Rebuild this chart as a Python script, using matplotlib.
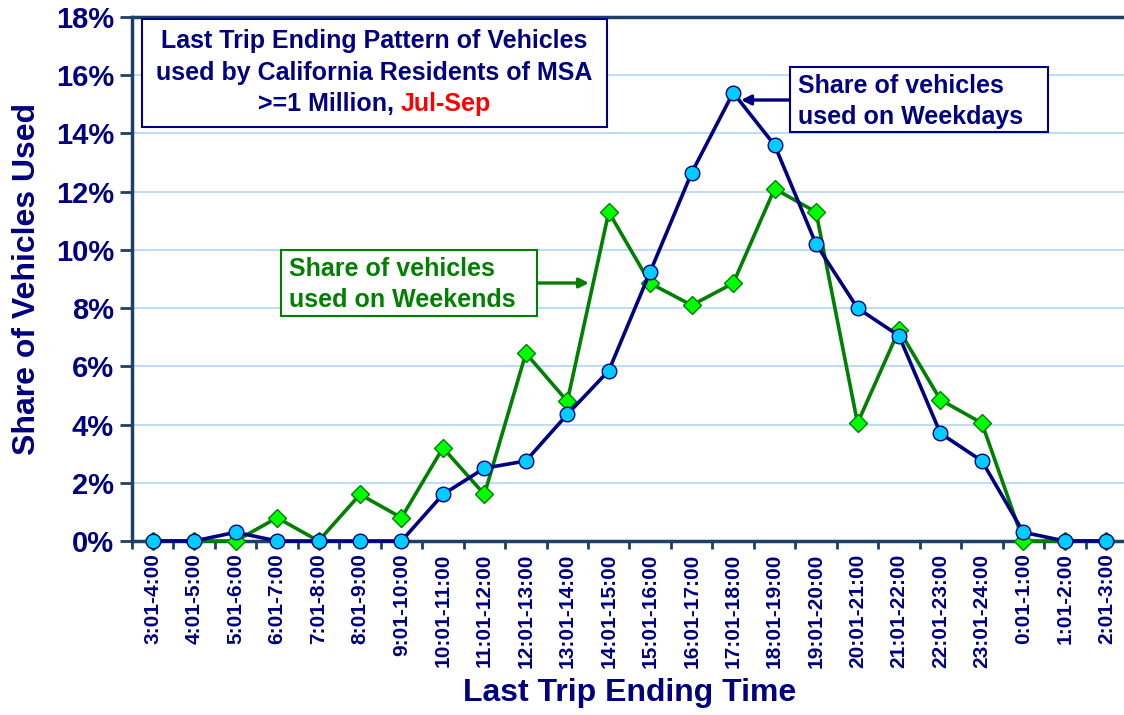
import matplotlib
matplotlib.use("Agg")
import matplotlib.pyplot as plt
from matplotlib.patches import Rectangle
from matplotlib.ticker import FixedLocator, PercentFormatter

plt.rcParams['font.family'] = ['Liberation Sans', 'DejaVu Sans']
plt.rcParams['font.weight'] = 'bold'

# time slots (last trip ending time)
slots = ["3:01-4:00", "4:01-5:00", "5:01-6:00", "6:01-7:00", "7:01-8:00",
         "8:01-9:00", "9:01-10:00", "10:01-11:00", "11:01-12:00", "12:01-13:00",
         "13:01-14:00", "14:01-15:00", "15:01-16:00", "16:01-17:00", "17:01-18:00",
         "18:01-19:00", "19:01-20:00", "20:01-21:00", "21:01-22:00", "22:01-23:00",
         "23:01-24:00", "0:01-1:00", "1:01-2:00", "2:01-3:00"]

# share of vehicles (%)
weekdays = [0, 0, 0.3, 0, 0, 0, 0, 1.6, 2.5, 2.75, 4.35, 5.85,
            9.25, 12.65, 15.4, 13.6, 10.2, 8.0, 7.05, 3.7, 2.75, 0.3, 0, 0]
weekends = [0, 0, 0, 0.8, 0, 1.6, 0.8, 3.2, 1.6, 6.45, 4.8, 11.3,
            8.85, 8.1, 8.85, 12.1, 11.3, 4.05, 7.25, 4.85, 4.05, 0, 0, 0]

navy = '#000080'
green = '#008000'
spine = '#1F3F66'
W, H = 1124, 715


def fx(px):
    return px / W


def fy(py):
    return 1 - py / H


def box(x0, y0, x1, y1, color):
    fig.add_artist(Rectangle((fx(x0), fy(y1)), fx(x1) - fx(x0), fy(y0) - fy(y1),
                             transform=fig.transFigure, fc='white', ec=color, lw=1.5, zorder=5))


fig = plt.figure(figsize=(W / 100, H / 100), dpi=100)
ax = fig.add_axes([fx(132), fy(541), fx(1127) - fx(132), fy(17) - fy(541)])

x = list(range(len(slots)))
ax.plot(x, weekends, color=green, lw=2.6, marker='D', markersize=9.5,
        markerfacecolor='#00FF00', markeredgecolor=green, markeredgewidth=1, zorder=3,
        clip_on=False)
ax.plot(x, weekdays, color=navy, lw=2.6, marker='o', markersize=10.5,
        markerfacecolor='#00CCFF', markeredgecolor=navy, markeredgewidth=1, zorder=4,
        clip_on=False)

ax.set_xlim(-0.5, len(slots) - 0.5)
ax.set_ylim(0, 18)
ax.yaxis.set_major_locator(FixedLocator(range(0, 19, 2)))
ax.yaxis.set_major_formatter(PercentFormatter(decimals=0))
ax.set_xticks(x)
ax.set_xticklabels(slots, rotation=90, fontsize=15, color=navy, fontweight='bold')
ax.xaxis.set_minor_locator(FixedLocator([i + 0.5 for i in range(-1, len(slots))]))
ax.tick_params(axis='x', which='major', length=0, pad=9)
ax.tick_params(axis='x', which='minor', length=6, width=2, color=spine, direction='out')
ax.tick_params(axis='y', length=9, width=2, color=spine, labelsize=21, labelcolor=navy, pad=4)
for lab in ax.get_yticklabels():
    lab.set_fontweight('bold')

ax.grid(axis='y', color='#B8D8F8', lw=1.3, zorder=0)
ax.set_axisbelow(True)
for s in ['left', 'bottom', 'top']:
    ax.spines[s].set_color(spine)
    ax.spines[s].set_linewidth(2.5)
ax.spines['right'].set_visible(False)

ax.set_xlabel("Last Trip Ending Time", fontsize=23, color=navy, fontweight='bold')
ax.xaxis.set_label_coords((630 - 132) / 995, (541 - 678) / 524)
ax.set_ylabel("Share of Vehicles Used", fontsize=23, color=navy, fontweight='bold')
ax.yaxis.set_label_coords((42 - 132) / 995, 0.5)

# title box
box(142, 19, 607, 127, navy)
tkw = dict(transform=fig.transFigure, fontsize=18, fontweight='bold', va='center', zorder=6)
fig.text(fx(374.5), fy(41), "Last Trip Ending Pattern of Vehicles", ha='center', color=navy, **tkw)
fig.text(fx(374.5), fy(73), "used by California Residents of MSA", ha='center', color=navy, **tkw)
t1 = fig.text(0, fy(104), ">=1 Million,", ha='left', color=navy, **tkw)
t2 = fig.text(0, fy(104), "Jul-Sep", ha='left', color='#FF0000', **tkw)
fig.canvas.draw()
r = fig.canvas.get_renderer()
w1 = t1.get_window_extent(r).width
w2 = t2.get_window_extent(r).width
gap = 7
start = 374.5 - (w1 + gap + w2) / 2
t1.set_x(fx(start))
t2.set_x(fx(start + w1 + gap))

# weekday label
box(790, 67, 1048, 132, navy)
fig.text(fx(798), fy(86), "Share of vehicles", ha='left', color=navy, **tkw)
fig.text(fx(798), fy(117), "used on Weekdays", ha='left', color=navy, **tkw)
ax.annotate("", xy=(fx(741), fy(100)), xycoords='figure fraction',
            xytext=(fx(790), fy(100)), textcoords='figure fraction',
            arrowprops=dict(arrowstyle='-|>', color=navy, lw=2.4, mutation_scale=14,
                            shrinkA=0, shrinkB=0), zorder=6)

# weekend label
box(281, 250, 537, 316, green)
fig.text(fx(289), fy(269), "Share of vehicles", ha='left', color=green, **tkw)
fig.text(fx(289), fy(300), "used on Weekends", ha='left', color=green, **tkw)
ax.annotate("", xy=(fx(589), fy(283)), xycoords='figure fraction',
            xytext=(fx(537), fy(283)), textcoords='figure fraction',
            arrowprops=dict(arrowstyle='-|>', color=green, lw=2.4, mutation_scale=14,
                            shrinkA=0, shrinkB=0), zorder=6)

fig.savefig("out.png", dpi=100)
